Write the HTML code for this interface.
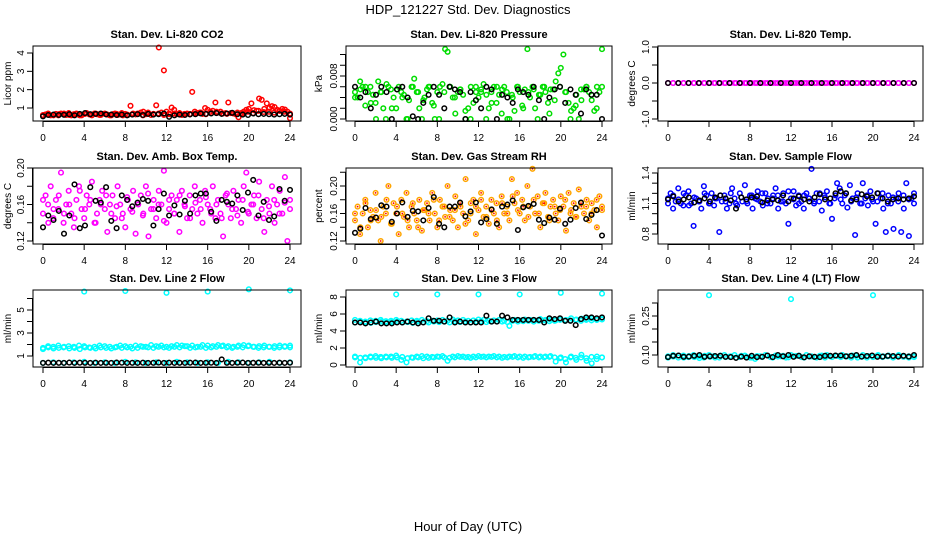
<!DOCTYPE html>
<html><head><meta charset="utf-8">
<style>
html,body{margin:0;padding:0;background:#fff;}
svg{display:block;font-family:"Liberation Sans",sans-serif;}
</style></head>
<body>
<svg id="chart" width="936" height="540" viewBox="0 0 936 540">
<text x="468" y="14" font-size="13" text-anchor="middle">HDP_121227  Std. Dev. Diagnostics</text>
<text x="468" y="531" font-size="13" text-anchor="middle">Hour of Day (UTC)</text>
</svg>
<script>
// ---------- data ----------
const hourTicks = [0,4,8,12,16,20,24];

const co2Red = [0.6,0.65,0.7,0.6,0.62,0.68,0.6,0.7,0.65,0.62,0.72,0.6,0.66,0.7,0.63,0.6,0.68,0.72,0.65,0.6,0.7,0.66,0.62,0.68,0.7,0.64,0.6,0.66,0.7,0.62,0.65,0.6,0.68,0.62,1.12,0.7,0.65,0.68,0.75,0.8,0.66,0.7,0.62,0.68,1.15,4.3,0.75,3.05,0.8,0.7,1.02,0.9,0.66,0.7,0.62,0.68,0.7,0.65,1.88,0.8,0.72,0.75,0.68,1.0,0.9,0.8,0.85,1.3,0.75,0.8,0.7,0.72,1.3,0.72,0.7,0.65,0.5,0.72,0.8,0.9,0.95,1.25,0.88,0.85,1.52,1.45,0.95,1.25,1.0,1.1,1.05,0.9,0.85,0.95,0.92,0.8,0.45];
const co2Red2 = [0.62,0.68,0.6,0.66,0.7,0.62,0.65,0.6,0.68,0.64,0.7,0.62,0.66,0.6,0.68,0.72,0.64,0.66,0.7,0.6,0.75,0.68,0.7,0.62,0.66,0.7,0.72,0.65,0.68,0.7,0.75,0.66,0.72,0.8,0.7,0.68,0.72,0.75,0.7,0.8,0.72,0.85,0.78,0.8,0.75,0.85,0.8,0.7];
const co2Black = [0.55,0.62,0.64,0.62,0.63,0.66,0.6,0.68,0.72,0.66,0.68,0.7,0.65,0.64,0.62,0.64,0.6,0.64,0.66,0.62,0.68,0.64,0.66,0.7,0.52,0.6,0.64,0.62,0.65,0.66,0.7,0.68,0.7,0.72,0.68,0.7,0.74,0.66,0.64,0.62,0.7,0.66,0.68,0.66,0.64,0.66,0.68,0.64];

const presGreen = [0.005,0.004,0.007,0.006,0.0025,0.005,0.006,0.0045,0.003,0.007,0.005,0.002,0,0.006,0.0055,0.004,0.002,0.006,0.005,0.0045,0,0.0035,0.006,0.0075,0.005,0.002,0,0.004,0.0055,0.006,0.003,0,0.005,0.006,0.0065,0.013,0.0125,0.006,0.004,0.001,0.005,0.0055,0.0045,0,0.002,0.006,0.003,0.005,0.004,0.0055,0.0065,0,0.002,0.005,0.006,0.003,0.0045,0.001,0.006,0.005,0,0.0045,0.0015,0.006,0.005,0.0025,0.0055,0.013,0.004,0.006,0.002,0,0.0045,0.006,0.005,0.003,0.0055,0.0055,0.007,0.0085,0.0095,0.012,0.005,0.003,0.0015,0.002,0.0045,0,0.0035,0.0055,0.006,0.005,0.0035,0.0015,0.006,0.005,0.013];
const presGreen2 = [0.004,0.0055,0.006,0.003,0,0.005,0.0065,0.002,0.0055,0.004,0,0.006,0.005,0.0035,0.006,0.0025,0,0.005,0.006,0.004,0.0055,0.0015,0,0.006,0.005,0.0045,0.003,0.006,0.0055,0,0.004,0.006,0.002,0.005,0.0055,0.0045,0.006,0.001,0.0035,0.006,0.005,0,0.0025,0.0055,0.006,0.0045,0.002,0.006];
const presBlack = [0.006,0.004,0.005,0.002,0.0045,0.006,0.005,0,0.0055,0.006,0.004,0.0005,0,0.003,0.0045,0.006,0.0045,0.002,0.006,0.0055,0.005,0,0.005,0.0035,0.002,0.006,0.0055,0,0.0045,0.004,0.003,0.0055,0.005,0.0045,0.006,0.0035,0,0.004,0.0055,0.006,0.003,0.0055,0.0045,0.001,0.0055,0.0045,0.0045,0];

const tempMagenta = [0,0,0,0,0,0,0,0,0,0,0,0,0,0,0,0,0,0,0,0,0,0,0,0,0,0,0,0,0,0,0,0,0,0,0,0,0,0,0,0,0,0,0,0,0,0,0,0,0];
const tempMagenta2 = [0,0,0,0,0,0,0,0,0,0,0,0,0,0,0,0,0,0,0,0,0,0,0,0,0,0,0,0,0,0,0,0,0,0,0,0,0,0,0,0,0,0,0,0,0,0,0,0];
const tempBlack = [0,0,0,0,0,0,0,0,0,0,0,0,0,0,0,0,0,0,0,0,0,0,0,0,0];

const ambMagenta = [0.15,0.17,0.16,0.18,0.145,0.165,0.155,0.195,0.14,0.16,0.175,0.15,0.135,0.165,0.18,0.155,0.145,0.17,0.16,0.185,0.14,0.15,0.165,0.175,0.155,0.13,0.16,0.17,0.145,0.18,0.16,0.15,0.135,0.165,0.155,0.175,0.128,0.16,0.17,0.15,0.18,0.125,0.155,0.165,0.145,0.175,0.16,0.197,0.14,0.155,0.17,0.15,0.165,0.13,0.175,0.16,0.145,0.17,0.155,0.18,0.15,0.165,0.14,0.175,0.16,0.155,0.18,0.145,0.165,0.15,0.125,0.17,0.16,0.145,0.175,0.155,0.165,0.14,0.18,0.195,0.15,0.16,0.17,0.145,0.185,0.155,0.13,0.165,0.15,0.18,0.14,0.16,0.175,0.15,0.19,0.12,0.165];
const ambMagenta2 = [0.165,0.14,0.155,0.17,0.15,0.16,0.145,0.175,0.155,0.165,0.14,0.16,0.17,0.15,0.158,0.145,0.168,0.152,0.162,0.148,0.172,0.155,0.16,0.142,0.165,0.15,0.17,0.158,0.145,0.162,0.155,0.168,0.15,0.16,0.145,0.172,0.155,0.148,0.165,0.152,0.16,0.17,0.145,0.158,0.165,0.15,0.162,0.155];
const ambBlack = [0.135,0.148,0.143,0.153,0.128,0.148,0.182,0.134,0.137,0.179,0.164,0.162,0.179,0.142,0.134,0.17,0.165,0.158,0.162,0.166,0.164,0.137,0.155,0.172,0.148,0.159,0.149,0.164,0.15,0.17,0.172,0.172,0.152,0.142,0.165,0.163,0.161,0.17,0.154,0.173,0.187,0.148,0.163,0.143,0.147,0.177,0.164,0.176];

const rhOrange = [0.15,0.17,0.13,0.16,0.18,0.14,0.165,0.155,0.19,0.15,0.12,0.17,0.16,0.2,0.145,0.175,0.16,0.13,0.18,0.155,0.19,0.14,0.17,0.16,0.15,0.18,0.135,0.165,0.175,0.15,0.19,0.16,0.14,0.18,0.17,0.155,0.2,0.165,0.15,0.185,0.14,0.17,0.16,0.21,0.15,0.175,0.18,0.13,0.165,0.19,0.155,0.17,0.145,0.18,0.16,0.175,0.14,0.185,0.16,0.17,0.15,0.21,0.175,0.19,0.16,0.18,0.15,0.2,0.17,0.225,0.16,0.185,0.14,0.175,0.19,0.155,0.17,0.18,0.16,0.15,0.185,0.17,0.135,0.19,0.165,0.175,0.155,0.195,0.17,0.16,0.18,0.15,0.175,0.165,0.14,0.185,0.17];
const rhOrange2 = [0.16,0.14,0.175,0.15,0.165,0.155,0.18,0.145,0.17,0.16,0.15,0.175,0.14,0.165,0.16,0.18,0.15,0.17,0.155,0.165,0.175,0.145,0.16,0.17,0.18,0.155,0.165,0.15,0.175,0.16,0.185,0.165,0.17,0.155,0.18,0.16,0.175,0.15,0.17,0.165,0.18,0.16,0.155,0.175,0.17,0.16,0.18,0.165];
const rhBlack = [0.132,0.138,0.168,0.152,0.154,0.172,0.17,0.148,0.16,0.176,0.155,0.164,0.163,0.15,0.168,0.184,0.145,0.14,0.17,0.17,0.176,0.156,0.163,0.176,0.147,0.152,0.166,0.145,0.17,0.173,0.179,0.136,0.169,0.171,0.174,0.151,0.146,0.154,0.151,0.167,0.145,0.151,0.168,0.176,0.152,0.158,0.165,0.128];

const flowBlue = [1.15,1.2,1.05,1.12,1.25,1.1,1.08,1.18,1.22,1.1,0.88,1.15,1.12,1.05,1.27,1.18,1.1,1.2,1.08,1.15,0.82,1.12,1.18,1.05,1.1,1.25,1.15,1.08,1.2,1.12,1.28,1.1,1.18,1.05,1.15,1.22,1.12,1.08,1.2,1.15,1.1,1.18,1.25,1.05,1.12,1.2,1.1,0.9,1.15,1.22,1.08,1.18,1.12,1.05,1.2,1.15,1.44,1.1,1.2,1.12,1.03,1.18,1.22,1.1,0.95,1.15,1.3,1.25,1.1,1.18,1.06,1.28,1.15,0.79,1.2,1.1,1.3,1.15,1.08,1.22,1.12,0.9,1.2,1.15,1.05,0.82,1.18,1.1,0.85,1.15,1.2,0.82,1.05,1.3,0.78,1.15,1.2];
const flowBlue2 = [1.1,1.18,1.14,1.2,1.08,1.16,1.12,1.2,1.1,1.15,1.18,1.12,1.2,1.1,1.16,1.12,1.18,1.14,1.2,1.1,1.15,1.18,1.12,1.22,1.14,1.1,1.18,1.15,1.12,1.2,1.16,1.1,1.18,1.14,1.2,1.12,1.16,1.1,1.18,1.14,1.12,1.2,1.1,1.16,1.12,1.18,1.14,1.1];
const flowBlack = [1.14,1.17,1.12,1.14,1.16,1.11,1.13,1.15,1.12,1.16,1.18,1.15,1.13,1.05,1.16,1.14,1.16,1.17,1.11,1.13,1.14,1.13,1.18,1.12,1.15,1.17,1.14,1.12,1.16,1.19,1.14,1.15,1.2,1.22,1.2,1.13,1.14,1.19,1.17,1.16,1.2,1.15,1.12,1.14,1.15,1.14,1.15,1.17];

const l2Cyan = [1.7,1.85,1.8,1.9,1.75,1.85,1.8,1.9,1.85,1.75,1.8,1.9,1.85,1.8,1.75,1.9,1.85,1.8,1.9,1.85,1.8,1.95,1.85,1.9,1.8,1.85,1.95,1.9,1.85,1.9,1.8,1.95,1.9,1.85,1.95,1.9,1.85,1.8,1.9,1.95,1.9,1.8,1.85,1.9,1.8,1.85,1.9,1.85,1.9];
const l2Cyan2 = [1.6,1.75,1.65,1.7,1.8,1.65,1.7,1.6,1.75,1.7,1.65,1.75,1.7,1.65,1.8,1.7,1.75,1.65,1.7,1.8,1.75,1.7,1.8,1.75,1.7,1.8,1.75,1.85,1.7,1.75,1.8,1.7,1.75,1.8,1.85,1.75,1.7,1.8,1.75,1.85,1.8,1.7,1.75,1.8,1.7,1.75,1.8,1.75];
const l2CyanLow = [0.4,0.45,0.4,0.45,0.5,0.4,0.45,0.4,0.5,0.45,0.4,0.45,0.4,0.5,0.45,0.4,0.45,0.4,0.5,0.45,0.4,0.45,0.5,0.4,0.45];
const l2Black = [0.4,0.42,0.4,0.41,0.4,0.43,0.4,0.42,0.41,0.4,0.42,0.4,0.41,0.4,0.43,0.42,0.4,0.41,0.4,0.42,0.4,0.41,0.43,0.4,0.42,0.4,0.41,0.4,0.42,0.43,0.4,0.41,0.42,0.4,0.7,0.41,0.4,0.42,0.43,0.4,0.41,0.42,0.4,0.41,0.4,0.42,0.4,0.42];
const l2OutHours = [4,8,12,16,20,24];
const l2OutValues = [6.6,6.65,6.5,6.6,6.8,6.7];

const l3CyanHigh = [5.3,5.2,5.1,5.25,5.2,5.3,5.15,5.2,5.3,5.2,5.1,5.25,5.2,5.3,5.15,5.2,5.25,5.3,5.2,5.35,5.25,5.3,5.2,5.25,5.35,5.3,5.2,5.25,5.3,5.2,4.6,5.3,5.25,5.35,5.3,5.25,5.4,5.3,5.35,5.25,5.4,5.3,5.5,5.35,5.45,5.4,5.5,5.3,5.4];
const l3CyanHigh2 = [5.0,5.1,5.0,4.95,5.05,5.1,5.0,5.05,5.1,5.0,5.05,4.95,5.1,5.05,5.0,5.1,5.05,5.1,5.0,5.15,5.05,5.1,5.0,5.1,5.15,5.05,5.1,5.15,5.1,5.05,5.2,5.1,5.15,5.2,5.1,5.2,5.25,5.15,5.2,5.3,5.2,5.25,5.3,5.2,5.3,5.25,5.3,5.35];
const l3CyanLow = [1.0,0.3,0.9,1.0,1.05,0.95,1.0,1.0,1.1,0.6,0.3,0.9,1.0,1.05,1.0,0.95,1.0,1.05,0.5,1.0,1.05,1.0,0.95,1.0,1.05,1.0,1.0,1.05,1.0,0.95,1.0,1.05,1.0,1.0,0.95,1.05,1.0,1.0,1.05,0.4,0.9,0.3,1.0,0.6,1.2,0.5,0.2,1.0,0.9];
const l3CyanLow2 = [0.9,0.85,0.8,0.9,0.85,0.8,0.9,0.85,0.9,0.95,0.8,0.85,0.9,0.8,0.85,0.9,0.95,0.9,0.85,0.9,0.95,0.9,0.85,0.9,0.95,0.9,0.95,0.9,0.85,0.9,0.95,0.9,0.85,0.9,0.95,0.9,0.9,0.95,0.9,0.8,0.7,0.9,0.85,0.9,0.8,0.95,0.7,0.9];
const l3Black = [5.0,5.0,4.9,5.0,5.1,4.9,4.9,4.9,5.0,5.0,5.1,5.0,4.9,5.0,5.5,5.2,5.2,5.1,5.6,5.0,5.1,5.0,5.0,5.0,5.0,5.8,5.1,5.1,5.8,5.6,5.3,5.3,5.3,5.3,5.3,5.3,5.0,5.5,5.4,5.5,5.2,5.2,4.7,5.4,5.6,5.6,5.5,5.6];
const l3OutHours = [4,8,12,16,20,24];
const l3OutValues = [8.3,8.3,8.3,8.3,8.5,8.4];

const l4Cyan = [0.095,0.1,0.09,0.098,0.092,0.1,0.095,0.09,0.1,0.096,0.09,0.1,0.094,0.1,0.092,0.098,0.09,0.085,0.095,0.1,0.092,0.098,0.095,0.09,0.1,0.096,0.092,0.1,0.095,0.09,0.098,0.1,0.092,0.096,0.1,0.095,0.098,0.09,0.1,0.096,0.092,0.1,0.095,0.098,0.092,0.1,0.095,0.09,0.096];
const l4Cyan2 = [0.09,0.094,0.098,0.09,0.096,0.092,0.088,0.097,0.093,0.09,0.098,0.092,0.095,0.09,0.097,0.093,0.09,0.096,0.092,0.098,0.09,0.094,0.097,0.091,0.095,0.098,0.09,0.094,0.092,0.097,0.09,0.095,0.098,0.092,0.094,0.09,0.097,0.093,0.09,0.096,0.098,0.092,0.095,0.09,0.097,0.093,0.095,0.092];
const l4Black = [0.092,0.097,0.098,0.093,0.094,0.097,0.1,0.093,0.095,0.096,0.097,0.093,0.092,0.089,0.094,0.09,0.097,0.092,0.093,0.098,0.092,0.1,0.095,0.1,0.093,0.097,0.091,0.095,0.093,0.092,0.097,0.097,0.098,0.098,0.095,0.097,0.1,0.094,0.096,0.098,0.093,0.094,0.097,0.096,0.094,0.097,0.094,0.1];
const l4OutHours = [4,12,20];
const l4OutValues = [0.33,0.315,0.33];

// ---------- layout ----------
const NS = "http://www.w3.org/2000/svg";
const svg = document.getElementById('chart');
const cols = [
  {bx0:33, bx1:301, t0:43, t24:290, ylab:11},
  {bx0:346, bx1:612, t0:355, t24:602, ylab:322},
  {bx0:658, bx1:923, t0:668, t24:914, ylab:635}
];
const rows = [{by0:46, by1:121},{by0:168, by1:244},{by0:290, by1:367}];

function mk(tag, attrs, parent){
  const e = document.createElementNS(NS, tag);
  for (const k in attrs) e.setAttribute(k, attrs[k]);
  (parent||svg).appendChild(e);
  return e;
}
function xScale(c){ return t => c.t0 + (c.t24 - c.t0) * t / 24; }
function yScale(v1, p1, v2, p2){ return v => p1 + (v - v1) * (p2 - p1) / (v2 - v1); }
function hours(arr){ return arr.map((_, i) => i * 24 / (arr.length - 1)); }

const panels = [
  {name:'co2', title:'Stan. Dev. Li-820 CO2', ytitle:'Licor ppm', c:0, r:0, ys:yScale(1,108,4,53),
   ticks:[1,2,3,4], labels:['1','2','3','4'],
   series:[{v:co2Red,col:'#ff0000'},{v:co2Red2,col:'#ff0000'},{v:co2Black,col:'#000'}]},
  {name:'pressure', title:'Stan. Dev. Li-820 Pressure', ytitle:'kPa', c:1, r:0, ys:yScale(0,119,0.008,76),
   ticks:[0,0.002,0.004,0.006,0.008,0.010,0.012], labels:['0.000','','','','0.008','',''],
   series:[{v:presGreen,col:'#00dd00'},{v:presGreen2,col:'#00dd00'},{v:presBlack,col:'#000'}]},
  {name:'licor-temp', title:'Stan. Dev. Li-820 Temp.', ytitle:'degrees C', c:2, r:0, ys:yScale(-1,119,1,47),
   ticks:[-1,-0.5,0,0.5,1], labels:['-1.0','','0.0','','1.0'],
   series:[{v:tempMagenta,col:'#ff00ff'},{v:tempMagenta2,col:'#ff00ff'},{v:tempBlack,col:'#000'}]},
  {name:'amb-box-temp', title:'Stan. Dev. Amb. Box Temp.', ytitle:'degrees C', c:0, r:1, ys:yScale(0.12,241,0.20,168),
   ticks:[0.12,0.14,0.16,0.18,0.20], labels:['0.12','','0.16','','0.20'],
   series:[{v:ambMagenta,col:'#ff00ff'},{v:ambMagenta2,col:'#ff00ff'},{v:ambBlack,col:'#000'}]},
  {name:'gas-stream-rh', title:'Stan. Dev. Gas Stream RH', ytitle:'percent', c:1, r:1, ys:yScale(0.12,241,0.20,186),
   ticks:[0.12,0.14,0.16,0.18,0.20,0.22], labels:['0.12','','0.16','','0.20',''],
   series:[{v:rhOrange,col:'#ffa500',dot:'#ff0000'},{v:rhOrange2,col:'#ffa500',dot:'#ff0000'},{v:rhBlack,col:'#000'}]},
  {name:'sample-flow', title:'Stan. Dev. Sample Flow', ytitle:'ml/min', c:2, r:1, ys:yScale(0.8,234,1.4,173),
   ticks:[0.8,0.9,1.0,1.1,1.2,1.3,1.4], labels:['0.8','','','1.1','','','1.4'],
   series:[{v:flowBlue,col:'#0000ff'},{v:flowBlue2,col:'#0000ff'},{v:flowBlack,col:'#000'}]},
  {name:'line2-flow', title:'Stan. Dev. Line 2 Flow', ytitle:'ml/min', c:0, r:2, ys:yScale(1,356,5,310),
   ticks:[1,2,3,4,5,6], labels:['1','','3','','5',''],
   series:[{v:l2Cyan,col:'#00ffff'},{v:l2Cyan2,col:'#00ffff'},{v:l2CyanLow,col:'#00ffff'},{v:l2OutValues,t:l2OutHours,col:'#00ffff'},{v:l2Black,col:'#000'}]},
  {name:'line3-flow', title:'Stan. Dev. Line 3 Flow', ytitle:'ml/min', c:1, r:2, ys:yScale(0,365,8,297),
   ticks:[0,2,4,6,8], labels:['0','2','4','6','8'],
   series:[{v:l3CyanHigh,col:'#00ffff'},{v:l3CyanHigh2,col:'#00ffff'},{v:l3CyanLow,col:'#00ffff'},{v:l3CyanLow2,col:'#00ffff'},{v:l3OutValues,t:l3OutHours,col:'#00ffff'},{v:l3Black,col:'#000'}]},
  {name:'line4-flow', title:'Stan. Dev. Line 4 (LT) Flow', ytitle:'ml/min', c:2, r:2, ys:yScale(0.10,355,0.25,316),
   ticks:[0.10,0.15,0.20,0.25,0.30], labels:['0.10','','','0.25',''],
   series:[{v:l4Cyan,col:'#00ffff'},{v:l4Cyan2,col:'#00ffff'},{v:l4OutValues,t:l4OutHours,col:'#00ffff'},{v:l4Black,col:'#000'}]}
];

panels.forEach(p => {
  const c = cols[p.c], r = rows[p.r];
  const xs = xScale(c), ys = p.ys;
  const g = mk('g', {});
  
  
  const ttl = mk('text', {x:(c.bx0+c.bx1)/2, y:r.by0-8, 'font-size':11, 'font-weight':'bold', 'text-anchor':'middle'}, g);
  ttl.textContent = p.title;
  
  
  const pg = mk('g', {}, g);
  
  
  p.series.forEach(s => {
    const ts = s.t || hours(s.v);
    s.v.forEach((v, i) => {
      const cx = xs(ts[i]), cy = ys(v);
      const m = mk('circle', {cx:cx.toFixed(1), cy:cy.toFixed(1), r:2.3, fill:'none', stroke:s.col, 'stroke-width':1.5}, pg);
      
      
      if (s.dot) mk('circle', {cx:cx.toFixed(1), cy:cy.toFixed(1), r:0.9, fill:s.dot}, pg);
    });
  });
  const box = mk('rect', {x:c.bx0, y:r.by0, width:c.bx1-c.bx0, height:r.by1-r.by0, fill:'none', stroke:'#000', 'stroke-width':1}, g);
  
  
  const xa = mk('g', {}, g);
  
  
  mk('line', {x1:xs(hourTicks[0]), x2:xs(hourTicks[hourTicks.length-1]), y1:r.by1+0.5, y2:r.by1+0.5, stroke:'#000'}, xa);
  hourTicks.forEach(h => {
    mk('line', {x1:xs(h), x2:xs(h), y1:r.by1, y2:r.by1+6, stroke:'#000'}, xa);
    const t = mk('text', {x:xs(h), y:r.by1+20, 'font-size':10, 'text-anchor':'middle'}, xa);
    t.textContent = h;
  });
  const ya = mk('g', {}, g);
  
  
  mk('line', {x1:c.bx0-0.5, x2:c.bx0-0.5, y1:ys(p.ticks[0]), y2:ys(p.ticks[p.ticks.length-1]), stroke:'#000'}, ya);
  p.ticks.forEach((tv, i) => {
    const y = ys(tv);
    mk('line', {x1:c.bx0-6, x2:c.bx0, y1:y, y2:y, stroke:'#000'}, ya);
    if (p.labels[i]) {
      const tx = c.bx0 - 9;
      const t = mk('text', {x:tx, y:y, 'font-size':10, 'text-anchor':'middle', transform:`rotate(-90 ${tx} ${y})`}, ya);
      t.textContent = p.labels[i];
    }
  });
  const yt = mk('text', {x:c.ylab, y:(r.by0+r.by1)/2, 'font-size':10, 'text-anchor':'middle', transform:`rotate(-90 ${c.ylab} ${(r.by0+r.by1)/2})`}, g);
  yt.textContent = p.ytitle;
  
  
});
</script>
</body></html>
